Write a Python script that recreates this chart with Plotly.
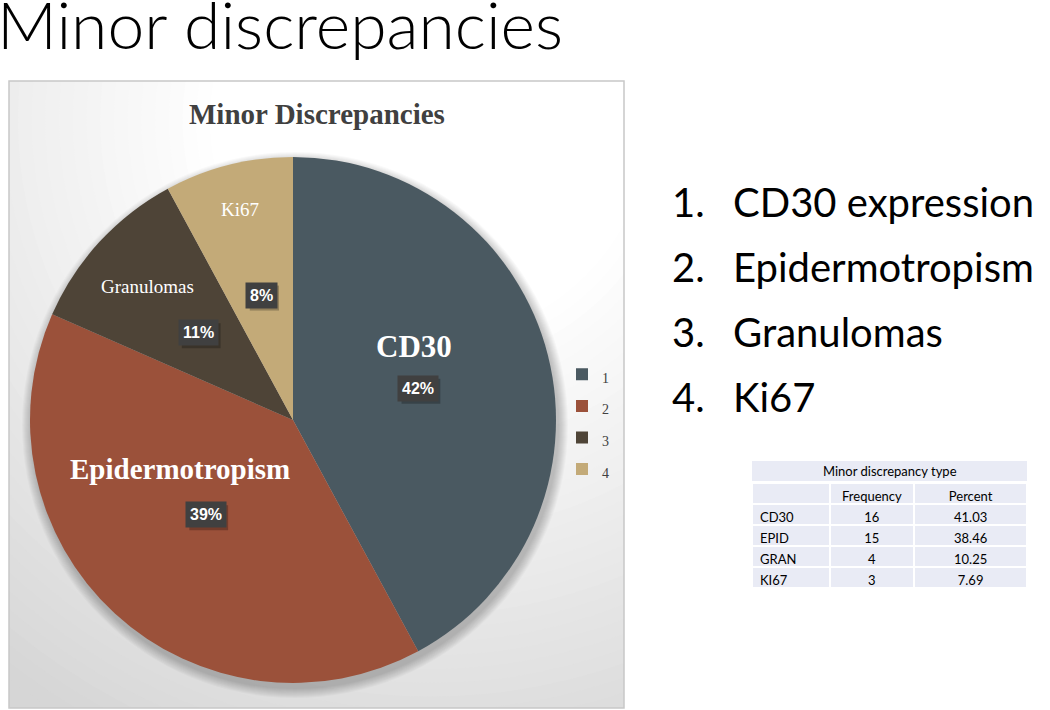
import math
import plotly.graph_objects as go

# ---------------- data ----------------
categories = ["1", "2", "3", "4"]
slice_names = ["CD30", "Epidermotropism", "Granulomas", "Ki67"]
frequency = [16, 15, 4, 3]
list_items = ["CD30 expression", "Epidermotropism", "Granulomas", "Ki67"]
table_types = ["CD30", "EPID", "GRAN", "KI67"]
table_percent = ["41.03", "38.46", "10.25", "7.69"]

# ---------------- styles / layout ----------------
W, H = 1050, 710
colors = ["#4a5961", "#9b513a", "#4e4437", "#c3aa78"]
BOX = dict(x0=9, x1=624, y0=81, y1=708)          # chart frame (px)
CX, CY, R = 293, 420, 263                        # pie centre / radius (px)
name_pos = [(0.54, -17), (0.47, 24), (0.75, 0), (0.825, 0)]   # (radius frac, angle offset)
name_font = [dict(size=31, bold=True), dict(size=29, bold=True),
             dict(size=19, bold=False), dict(size=19, bold=False)]
PCT_R = 0.49
PCT_FONT = 16
SERIF = "Liberation Serif"
SANS = "Lato"


def px(x):
    return x / W


def py(y):
    return 1 - y / H


fig = go.Figure()

# invisible pixel-coordinate subplot covering the chart frame (for background)
fig.update_layout(
    xaxis=dict(domain=[px(BOX["x0"]), px(BOX["x1"])], range=[BOX["x0"], BOX["x1"]],
               visible=False, fixedrange=True),
    yaxis=dict(domain=[py(BOX["y1"]), py(BOX["y0"])], range=[BOX["y1"], BOX["y0"]],
               visible=False, fixedrange=True),
)
fig.add_trace(go.Scatter(x=[BOX["x0"]], y=[BOX["y0"]], mode="markers",
                         marker=dict(opacity=0), showlegend=False, hoverinfo="skip"))

shapes = []
# radial gradient background
N = 36
gx, gy = 430, 120
rmax, rmin = 700, 220
c_out, c_in = 214, 255
for i in range(N):
    t = i / (N - 1)
    r = rmax - (rmax - rmin) * t
    c = round(c_out + (c_in - c_out) * t)
    shapes.append(dict(type="circle", xref="x", yref="y", x0=gx - r, x1=gx + r,
                       y0=gy - r, y1=gy + r, fillcolor=f"rgb({c},{c},{c})",
                       line=dict(width=0), layer="below"))
# soft pie shadow
for k in range(10, 0, -1):
    rr = R + k
    shapes.append(dict(type="circle", xref="x", yref="y", x0=CX + 2 - rr, x1=CX + 2 + rr,
                       y0=CY + 5 - rr, y1=CY + 5 + rr, fillcolor="rgba(0,0,0,0.022)",
                       line=dict(width=0), layer="below"))
# frame border
shapes.append(dict(type="rect", xref="paper", yref="paper", x0=px(BOX["x0"]), x1=px(BOX["x1"]),
                   y0=py(BOX["y1"]), y1=py(BOX["y0"]), line=dict(color="#c8c8c8", width=1.5)))

# pie
fig.add_trace(go.Pie(
    labels=[f"<span style='font-size:14px'>{c}</span>" for c in categories],
    values=frequency, sort=False, direction="clockwise", rotation=0,
    marker=dict(colors=colors, line=dict(width=0)),
    textinfo="none", hoverinfo="label+value+percent",
    domain=dict(x=[px(CX - R), px(CX + R)], y=[py(CY + R), py(CY - R)]),
))

annotations = []
total = sum(frequency)
cum = 0
for i, v in enumerate(frequency):
    mid = (cum + v / 2) / total * 360
    cum += v
    # percentage box
    a = math.radians(mid)
    bx, by = CX + PCT_R * R * math.sin(a), CY - PCT_R * R * math.cos(a)
    pct = f"{round(v / total * 100)}%"
    # drop shadow behind the label box
    hw = (len(pct) * 0.6 * PCT_FONT + 10) / 2
    hh = 12.5
    shapes.append(dict(type="rect", xref="x", yref="y", x0=bx - hw + 3, x1=bx + hw + 3,
                       y0=by - hh + 3, y1=by + hh + 3, fillcolor="rgba(0,0,0,0.25)",
                       line=dict(width=0)))
    annotations.append(dict(x=bx, y=by, xref="x", yref="y", text=pct, showarrow=False,
                            xanchor="center", yanchor="middle", bgcolor="#404040",
                            font=dict(family="Liberation Sans", size=PCT_FONT, color="white",
                                      weight="bold"), borderpad=4))
    # category name
    fr, off = name_pos[i]
    b = math.radians(mid + off)
    nx, ny = CX + fr * R * math.sin(b), CY - fr * R * math.cos(b)
    nf = name_font[i]
    annotations.append(dict(x=nx, y=ny, xref="x", yref="y", text=slice_names[i],
                            showarrow=False, xanchor="center", yanchor="middle",
                            font=dict(family=SERIF, size=nf["size"], color="white",
                                      weight="bold" if nf["bold"] else "normal")))

# chart title
annotations.append(dict(x=px((BOX["x0"] + BOX["x1"]) / 2), y=py(114), xref="paper", yref="paper",
                        text="Minor Discrepancies", showarrow=False,
                        xanchor="center", yanchor="middle",
                        font=dict(family=SERIF, size=29, color="#404040", weight="bold")))
# slide title
annotations.append(dict(x=px(-5), y=py(24), xref="paper", yref="paper",
                        xanchor="left", yanchor="middle",
                        text="Minor discrepancies", showarrow=False,
                        font=dict(family=SANS, size=66, color="#000000", weight=300)))
# numbered list
for i, (c, item) in enumerate(zip(categories, list_items)):
    yy = py(202 + i * 65)
    annotations.append(dict(x=px(670), y=yy, xref="paper", yref="paper",
                            xanchor="left", yanchor="middle",
                            text=f"{c}.", showarrow=False,
                            font=dict(family=SANS, size=40, color="#000000")))
    annotations.append(dict(x=px(731), y=yy, xref="paper", yref="paper",
                            xanchor="left", yanchor="middle",
                            text=item, showarrow=False,
                            font=dict(family=SANS, size=40, color="#000000")))

# table title row
TBL = dict(x0=752, x1=1027, y0=461, y1=481)
shapes.append(dict(type="rect", xref="paper", yref="paper", x0=px(TBL["x0"]), x1=px(TBL["x1"]),
                   y0=py(TBL["y1"]), y1=py(TBL["y0"]), fillcolor="#e9ebf5",
                   line=dict(width=0)))
annotations.append(dict(x=px((TBL["x0"] + TBL["x1"]) / 2), y=py(471), xref="paper", yref="paper",
                        xanchor="center", yanchor="middle",
                        text="Minor discrepancy type", showarrow=False,
                        font=dict(family=SANS, size=13, color="#000000")))

fig.add_trace(go.Table(
    domain=dict(x=[px(752), px(1027)], y=[py(590), py(483)]),
    columnwidth=[77, 84, 112],
    header=dict(values=["", "Frequency", "Percent"], fill_color="#e9ebf5",
                line=dict(color="white", width=2), height=21,
                align=["left", "center", "center"],
                font=dict(family=SANS, size=13, color="#000000")),
    cells=dict(values=[table_types, [str(f) for f in frequency], table_percent],
               fill_color="#e9ebf5", line=dict(color="white", width=2), height=21,
               align=["left", "center", "center"],
               font=dict(family=SANS, size=13, color="#000000")),
))

fig.update_layout(
    width=W, height=H, margin=dict(l=0, r=0, t=0, b=0),
    paper_bgcolor="white", plot_bgcolor="rgb(214,214,214)",
    shapes=shapes, annotations=annotations,
    showlegend=True,
    legend=dict(x=px(562), y=py(422), xanchor="left", yanchor="middle",
                font=dict(family=SERIF, size=22, color="#404040"),
                bgcolor="rgba(0,0,0,0)", itemwidth=30),
)

fig.write_html("out.html", config={"displayModeBar": False},
               post_script="document.body.style.margin='0px';")
